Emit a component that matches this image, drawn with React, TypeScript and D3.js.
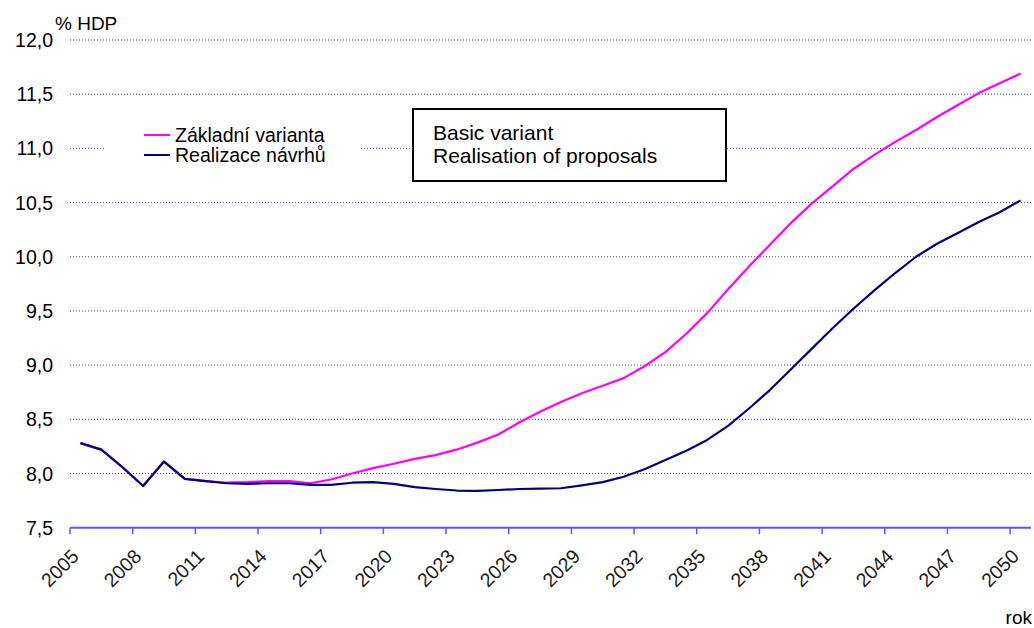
import React from "react";
import * as d3 from "d3";

// Years on the category axis
const years: number[] = [
  2005, 2006, 2007, 2008, 2009, 2010, 2011, 2012, 2013, 2014, 2015, 2016,
  2017, 2018, 2019, 2020, 2021, 2022, 2023, 2024, 2025, 2026, 2027, 2028,
  2029, 2030, 2031, 2032, 2033, 2034, 2035, 2036, 2037, 2038, 2039, 2040,
  2041, 2042, 2043, 2044, 2045, 2046, 2047, 2048, 2049, 2050,
];

// Základní varianta (% HDP)
const basicVariant: number[] = [
  8.28, 8.22, 8.06, 7.885, 8.11, 7.95, 7.93, 7.915, 7.92, 7.93, 7.93, 7.91,
  7.945, 8.0, 8.05, 8.09, 8.135, 8.17, 8.22, 8.285, 8.36, 8.47, 8.57, 8.66,
  8.74, 8.81, 8.88, 8.99, 9.12, 9.29, 9.48, 9.70, 9.91, 10.11, 10.31, 10.49,
  10.65, 10.81, 10.94, 11.06, 11.17, 11.29, 11.4, 11.51, 11.6, 11.69,
];

// Realizace návrhů (% HDP)
const proposals: number[] = [
  8.28, 8.22, 8.06, 7.885, 8.11, 7.95, 7.93, 7.91, 7.905, 7.91, 7.91, 7.895,
  7.895, 7.915, 7.92, 7.905, 7.875, 7.857, 7.843, 7.84, 7.848, 7.857, 7.86,
  7.864, 7.89, 7.92, 7.97, 8.04, 8.125, 8.21, 8.31, 8.44, 8.60, 8.77, 8.96,
  9.15, 9.34, 9.52, 9.69, 9.85, 10.0, 10.12, 10.22, 10.32, 10.41, 10.52,
];

const yTicks: number[] = [7.5, 8.0, 8.5, 9.0, 9.5, 10.0, 10.5, 11.0, 11.5, 12.0];
const xTickYears: number[] = [
  2005, 2008, 2011, 2014, 2017, 2020, 2023, 2026, 2029, 2032, 2035, 2038,
  2041, 2044, 2047, 2050,
];

const seriesNames = ["Základní varianta", "Realizace návrhů"];
const boxLines = ["Basic variant", "Realisation of proposals"];

const W = 1034;
const H = 628;
const FONT = "'Liberation Sans', Arial, Helvetica, sans-serif";

export default function App() {
  const left = 70;
  const right = 1031;
  const top = 40;
  const bottom = 527.7;

  const x = d3
    .scaleBand<number>()
    .domain(years)
    .range([left, right])
    .paddingInner(0)
    .paddingOuter(0);
  const y = d3.scaleLinear().domain([7.5, 12]).range([bottom, top]);

  const cx = (yr: number) => (x(yr) as number) + x.bandwidth() / 2;
  const line = d3
    .line<number>()
    .x((_, i) => cx(years[i]))
    .y((v) => y(v));

  const fmt = (v: number) => d3.format(".1f")(v).replace(".", ",");

  return (
    <svg
      width={W}
      height={H}
      style={{ position: "absolute", left: 0, top: 0, background: "#fff" }}
      fontFamily={FONT}
    >
      <rect x={0} y={0} width={W} height={H} fill="#fff" />

      {/* horizontal dotted gridlines */}
      {yTicks
        .filter((t) => t > 7.5)
        .map((t) => (
          <line
            key={"g" + t}
            x1={left}
            x2={right}
            y1={y(t)}
            y2={y(t)}
            stroke="#3a3aff"
            strokeWidth={1}
            strokeDasharray="1,2"
          />
        ))}

      {/* y tick labels */}
      {yTicks.map((t) => (
        <text
          key={"yl" + t}
          x={53}
          y={y(t)}
          dy="0.36em"
          textAnchor="end"
          fontSize={19.5}
          fill="#000"
        >
          {fmt(t)}
        </text>
      ))}
      <text x={55} y={30} fontSize={19} fill="#000">
        % HDP
      </text>

      {/* x axis */}
      <line
        x1={left}
        x2={right}
        y1={bottom}
        y2={bottom}
        stroke="#5a5aff"
        strokeWidth={2}
      />
      {xTickYears.map((yr) => {
        const tx = x(yr) as number;
        return (
          <g key={"xt" + yr}>
            <line
              x1={tx}
              x2={tx}
              y1={bottom}
              y2={bottom + 6.5}
              stroke="#5a5aff"
              strokeWidth={1.5}
            />
            <text
              transform={`translate(${tx + 5},${bottom + 25}) rotate(-45)`}
              textAnchor="end"
              dy="0.36em"
              fontSize={19.5}
              fill="#1a1a1a"
            >
              {yr}
            </text>
          </g>
        );
      })}
      <text x={1032} y={624} textAnchor="end" fontSize={19} fill="#000">
        rok
      </text>

      {/* series */}
      <path
        d={line(basicVariant) || ""}
        fill="none"
        stroke="#ff00ff"
        strokeWidth={2.2}
        strokeLinejoin="round"
      />
      <path
        d={line(proposals) || ""}
        fill="none"
        stroke="#000080"
        strokeWidth={2.2}
        strokeLinejoin="round"
      />

      {/* legend */}
      <rect x={106} y={116} width={253} height={58} fill="#fff" />
      {seriesNames.map((name, i) => (
        <g key={name}>
          <line
            x1={144}
            x2={170}
            y1={135 + i * 20}
            y2={135 + i * 20}
            stroke={i === 0 ? "#ff00ff" : "#000080"}
            strokeWidth={2}
          />
          <text
            x={175}
            y={135 + i * 20}
            dy="0.36em"
            fontSize={19.5}
            fill="#000"
          >
            {name}
          </text>
        </g>
      ))}

      {/* English caption box */}
      <rect
        x={413}
        y={109}
        width={313}
        height={72}
        fill="#fff"
        stroke="#000"
        strokeWidth={2}
      />
      {boxLines.map((s, i) => (
        <text key={s} x={433} y={140 + i * 23} fontSize={21} fill="#000">
          {s}
        </text>
      ))}
    </svg>
  );
}
